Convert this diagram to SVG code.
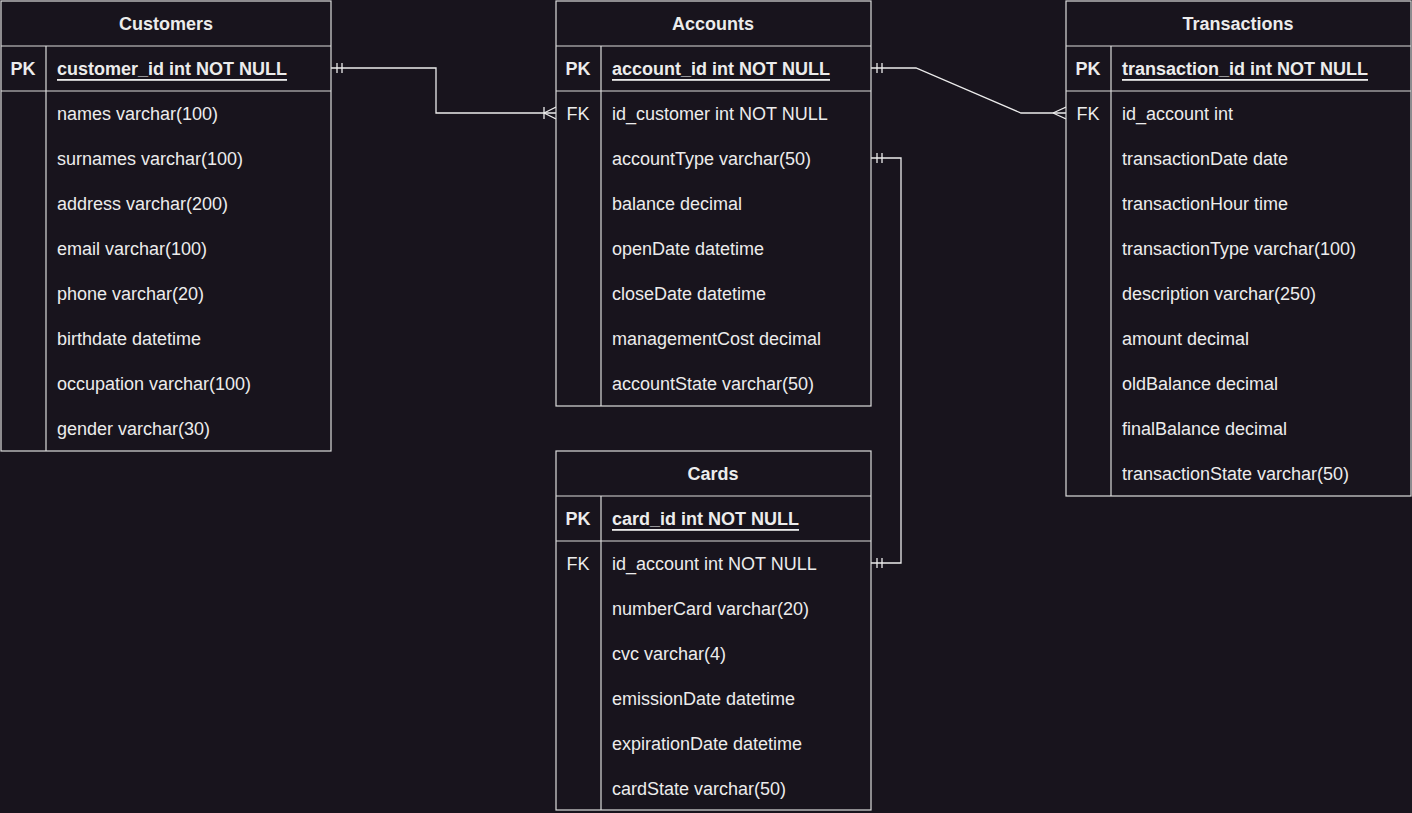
<svg xmlns="http://www.w3.org/2000/svg" width="1412" height="813" viewBox="0 0 1412 813">
<style>
.box{fill:#18141d;stroke:#dcdcdc;stroke-width:1.2}
.ln{stroke:#dcdcdc;stroke-width:1.2;fill:none}
.t{font-family:"Liberation Sans",Arial,sans-serif;font-size:18px;fill:#ececec;dominant-baseline:central}
.b{font-weight:bold}
.h{font-weight:bold;text-anchor:middle}
.k{text-anchor:middle}
.u{text-decoration:underline}
.c{stroke:#ececec;stroke-width:1.3;fill:none}
</style>
<defs>
<marker id="one" viewBox="0 0 20 20" markerWidth="20" markerHeight="20" refX="0" refY="10" orient="auto" markerUnits="userSpaceOnUse">
<path d="M6,5 V15 M11,5 V15" stroke="#ececec" stroke-width="1.3" fill="none"/>
</marker>
<marker id="oneEnd" viewBox="0 0 20 20" markerWidth="20" markerHeight="20" refX="20" refY="10" orient="auto" markerUnits="userSpaceOnUse">
<path d="M9,5 V15 M14,5 V15" stroke="#ececec" stroke-width="1.3" fill="none"/>
</marker>
<marker id="manyBar" viewBox="0 0 20 20" markerWidth="20" markerHeight="20" refX="20" refY="10" orient="auto" markerUnits="userSpaceOnUse">
<path d="M8,4 V16 M8,10 L20,4 M8,10 L20,16" stroke="#ececec" stroke-width="1.3" fill="none"/>
</marker>
<marker id="many" viewBox="0 0 20 20" markerWidth="20" markerHeight="20" refX="20" refY="10" orient="auto" markerUnits="userSpaceOnUse">
<path d="M7,10 L20,4 M7,10 L20,16" stroke="#ececec" stroke-width="1.3" fill="none"/>
</marker>
</defs>
<rect x="0" y="0" width="1412" height="813" fill="#18141d"/>

<g id="connectors">
<path class="c" d="M331,68 H436 V113 H556" marker-start="url(#one)" marker-end="url(#manyBar)"/>
<path class="c" d="M871,68 H916 L1021,113 H1066" marker-start="url(#one)" marker-end="url(#many)"/>
<path class="c" d="M871,158 H901 V563 H871" marker-start="url(#one)" marker-end="url(#oneEnd)"/>
</g>

<g id="customers">
<rect class="box" x="1" y="1" width="330" height="450"/>
<line class="ln" x1="1" y1="46" x2="331" y2="46"/>
<line class="ln" x1="1" y1="91" x2="331" y2="91"/>
<line class="ln" x1="46" y1="46" x2="46" y2="451"/>
<g transform="translate(0,1)">
<text class="t h" x="166" y="23">Customers</text>
<text class="t h" x="23" y="68">PK</text>
<text class="t b u" x="57" y="68">customer_id int NOT NULL</text>
<text class="t" x="57" y="113">names varchar(100)</text>
<text class="t" x="57" y="158">surnames varchar(100)</text>
<text class="t" x="57" y="203">address varchar(200)</text>
<text class="t" x="57" y="248">email varchar(100)</text>
<text class="t" x="57" y="293">phone varchar(20)</text>
<text class="t" x="57" y="338">birthdate datetime</text>
<text class="t" x="57" y="383">occupation varchar(100)</text>
<text class="t" x="57" y="428">gender varchar(30)</text>
</g>
</g>

<g id="accounts">
<rect class="box" x="556" y="1" width="315" height="405"/>
<line class="ln" x1="556" y1="46" x2="871" y2="46"/>
<line class="ln" x1="556" y1="91" x2="871" y2="91"/>
<line class="ln" x1="601" y1="46" x2="601" y2="406"/>
<g transform="translate(0,1)">
<text class="t h" x="713" y="23">Accounts</text>
<text class="t h" x="578" y="68">PK</text>
<text class="t b u" x="612" y="68">account_id int NOT NULL</text>
<text class="t k" x="578" y="113">FK</text>
<text class="t" x="612" y="113">id_customer int NOT NULL</text>
<text class="t" x="612" y="158">accountType varchar(50)</text>
<text class="t" x="612" y="203">balance decimal</text>
<text class="t" x="612" y="248">openDate datetime</text>
<text class="t" x="612" y="293">closeDate datetime</text>
<text class="t" x="612" y="338">managementCost decimal</text>
<text class="t" x="612" y="383">accountState varchar(50)</text>
</g>
</g>

<g id="transactions">
<rect class="box" x="1066" y="1" width="345" height="495"/>
<line class="ln" x1="1066" y1="46" x2="1411" y2="46"/>
<line class="ln" x1="1066" y1="91" x2="1411" y2="91"/>
<line class="ln" x1="1111" y1="46" x2="1111" y2="496"/>
<g transform="translate(0,1)">
<text class="t h" x="1238" y="23">Transactions</text>
<text class="t h" x="1088" y="68">PK</text>
<text class="t b u" x="1122" y="68">transaction_id int NOT NULL</text>
<text class="t k" x="1088" y="113">FK</text>
<text class="t" x="1122" y="113">id_account int</text>
<text class="t" x="1122" y="158">transactionDate date</text>
<text class="t" x="1122" y="203">transactionHour time</text>
<text class="t" x="1122" y="248">transactionType varchar(100)</text>
<text class="t" x="1122" y="293">description varchar(250)</text>
<text class="t" x="1122" y="338">amount decimal</text>
<text class="t" x="1122" y="383">oldBalance decimal</text>
<text class="t" x="1122" y="428">finalBalance decimal</text>
<text class="t" x="1122" y="473">transactionState varchar(50)</text>
</g>
</g>

<g id="cards">
<rect class="box" x="556" y="451" width="315" height="359"/>
<line class="ln" x1="556" y1="496" x2="871" y2="496"/>
<line class="ln" x1="556" y1="541" x2="871" y2="541"/>
<line class="ln" x1="601" y1="496" x2="601" y2="810"/>
<g transform="translate(0,1)">
<text class="t h" x="713" y="473">Cards</text>
<text class="t h" x="578" y="518">PK</text>
<text class="t b u" x="612" y="518">card_id int NOT NULL</text>
<text class="t k" x="578" y="563">FK</text>
<text class="t" x="612" y="563">id_account int NOT NULL</text>
<text class="t" x="612" y="608">numberCard varchar(20)</text>
<text class="t" x="612" y="653">cvc varchar(4)</text>
<text class="t" x="612" y="698">emissionDate datetime</text>
<text class="t" x="612" y="743">expirationDate datetime</text>
<text class="t" x="612" y="788">cardState varchar(50)</text>
</g>
</g>
</svg>
